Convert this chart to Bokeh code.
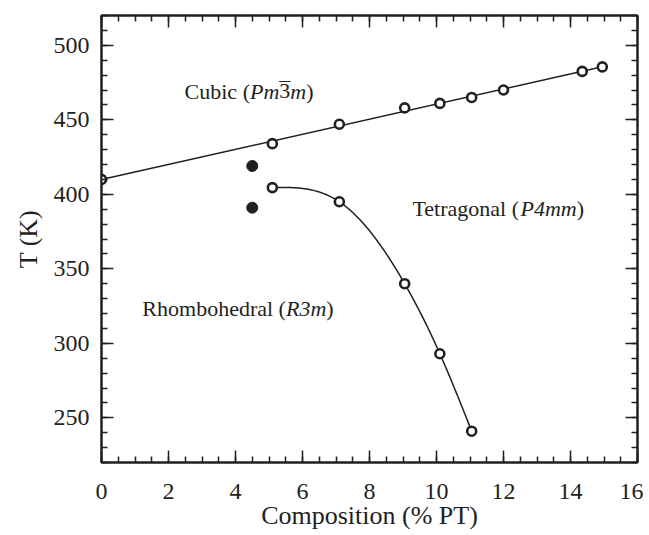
import numpy as np
from bokeh.plotting import figure
from bokeh.models import LinearAxis, SingleIntervalTicker, Range1d
from bokeh.core.properties import value
from bokeh.embed import file_html
from bokeh.resources import INLINE

# ---- data ----
comp_upper = [0.0, 5.1, 7.1, 9.05, 10.1, 11.05, 12.0, 14.35, 14.95]
T_upper = [410, 434, 447, 458, 461, 465, 470, 482.5, 485.5]

comp_lower = [5.1, 7.1, 9.05, 10.1, 11.05]
T_lower = [404.5, 395, 340, 293, 241]

comp_filled = [4.5, 4.5]
T_filled = [419, 391]

x_ticks_interval = 2
y_ticks_interval = 50

cubic_label = [("Cubic (", "normal"), ("Pm", "italic"), ("3\u0304", "normal"), ("m", "italic"), (")", "normal")]
tetra_label = [("Tetragonal (", "normal"), ("P4mm", "italic"), (")", "normal")]
rhombo_label = [("Rhombohedral (", "normal"), ("R3m", "italic"), (")", "normal")]

INK = "#231f20"
FONT = "Liberation Serif"

# Times-like advance widths (per 1000 em)
W_REG = {"C": 667, "u": 500, "b": 500, "i": 278, "c": 444, " ": 250, "(": 333, ")": 333,
         "T": 611, "e": 444, "t": 278, "r": 333, "a": 444, "g": 500, "o": 500, "n": 500,
         "l": 278, "R": 667, "h": 500, "m": 778, "d": 500, "3": 500, "4": 500, "\u0304": 0}
W_IT = {"P": 611, "m": 722, "R": 611, "3": 500, "4": 500}


def text_width(s, style, size):
    table = W_IT if style == "italic" else W_REG
    return sum(table.get(ch, 500) for ch in s) * size / 1000.0


def natural_spline(xs, ys, num=200):
    xs = np.asarray(xs, float)
    ys = np.asarray(ys, float)
    n = len(xs)
    h = np.diff(xs)
    A = np.zeros((n, n))
    b = np.zeros(n)
    A[0, 0] = 1
    A[-1, -1] = 1
    for i in range(1, n - 1):
        A[i, i - 1] = h[i - 1]
        A[i, i] = 2 * (h[i - 1] + h[i])
        A[i, i + 1] = h[i]
        b[i] = 6 * ((ys[i + 1] - ys[i]) / h[i] - (ys[i] - ys[i - 1]) / h[i - 1])
    M = np.linalg.solve(A, b)
    xx = np.linspace(xs[0], xs[-1], num)
    idx = np.clip(np.searchsorted(xs, xx) - 1, 0, n - 2)
    x0 = xs[idx]
    x1 = xs[idx + 1]
    hh = x1 - x0
    t0 = x1 - xx
    t1 = xx - x0
    yy = (M[idx] * t0 ** 3 / (6 * hh) + M[idx + 1] * t1 ** 3 / (6 * hh)
          + (ys[idx] / hh - M[idx] * hh / 6) * t0 + (ys[idx + 1] / hh - M[idx + 1] * hh / 6) * t1)
    return xx, yy


p = figure(frame_width=536, frame_height=447,
           x_range=Range1d(0, 16), y_range=Range1d(220, 520),
           output_backend="svg", toolbar_location=None,
           min_border_left=101, min_border_top=15, min_border_right=6, min_border_bottom=6,
           background_fill_color="white", border_fill_color="white")
p.grid.visible = False
p.outline_line_color = INK
p.outline_line_width = 2

xt = SingleIntervalTicker(interval=x_ticks_interval, num_minor_ticks=4)
yt = SingleIntervalTicker(interval=y_ticks_interval, num_minor_ticks=5)


def style_axis(ax, show_labels, standoff=12):
    ax.axis_line_color = INK
    ax.axis_line_width = 2
    ax.major_tick_line_color = INK
    ax.minor_tick_line_color = INK
    ax.major_tick_line_width = 1.5
    ax.minor_tick_line_width = 1.5
    ax.major_tick_in = 12
    ax.major_tick_out = 0
    ax.minor_tick_in = 6
    ax.minor_tick_out = 0
    ax.major_label_text_font = FONT
    ax.major_label_text_color = INK
    ax.axis_label_text_font = FONT
    ax.axis_label_text_color = INK
    ax.axis_label_text_font_style = "normal"
    ax.axis_label_text_font_size = "26px"
    if show_labels:
        ax.major_label_text_font_size = "24px"
        ax.major_label_standoff = standoff
    else:
        ax.major_label_text_font_size = "0px"
        ax.major_label_standoff = 0


xa = p.xaxis[0]
xa.ticker = xt
style_axis(xa, True, standoff=21)
xa.axis_label = "Composition (% PT)"
xa.axis_label_standoff = -1

ya = p.yaxis[0]
ya.ticker = yt
style_axis(ya, True, standoff=12)
ya.axis_label = "T (K)"
ya.axis_label_standoff = 8

top = LinearAxis(ticker=xt)
style_axis(top, False)
p.add_layout(top, "above")
right = LinearAxis(ticker=yt)
style_axis(right, False)
p.add_layout(right, "right")

# upper (cubic boundary) straight fit line
k, c0 = np.polyfit(comp_upper, T_upper, 1)
xl = np.array([min(comp_upper), max(comp_upper)])
p.line(xl, k * xl + c0, line_color=INK, line_width=1.5)

# lower (R-T boundary) smooth curve
sx, sy = natural_spline(comp_lower, T_lower)
p.line(sx, sy, line_color=INK, line_width=1.5)

p.scatter(comp_upper, T_upper, marker="circle", size=9, fill_color="white",
          line_color=INK, line_width=2.6)
p.scatter(comp_lower, T_lower, marker="circle", size=9, fill_color="white",
          line_color=INK, line_width=2.6)
p.scatter(comp_filled, T_filled, marker="circle", size=11, fill_color=INK,
          line_color=INK, line_width=1)


def put_label(x, y, pieces, size=22):
    off = 0.0
    for s, style in pieces:
        base = s.replace("\u0304", "")
        p.text(x=[x], y=[y], text=[base], x_offset=off,
               text_font=value(FONT), text_font_style=style,
               text_font_size=f"{size}px", text_color=INK,
               text_align="left", text_baseline="alphabetic")
        w = text_width(base, style, size)
        if "\u0304" in s:
            # overbar drawn as a spacing macron centred over the character
            p.text(x=[x], y=[y], text=["\u00af"], x_offset=off + w / 2, y_offset=-2,
                   text_font=value(FONT), text_font_style="normal",
                   text_font_size=f"{size}px", text_color=INK,
                   text_align="center", text_baseline="alphabetic")
        off += w


put_label(2.48, 469, cubic_label)
put_label(9.28, 390.5, tetra_label)
put_label(1.22, 323.3, rhombo_label)

open("out.html", "w").write(file_html(p, INLINE))
